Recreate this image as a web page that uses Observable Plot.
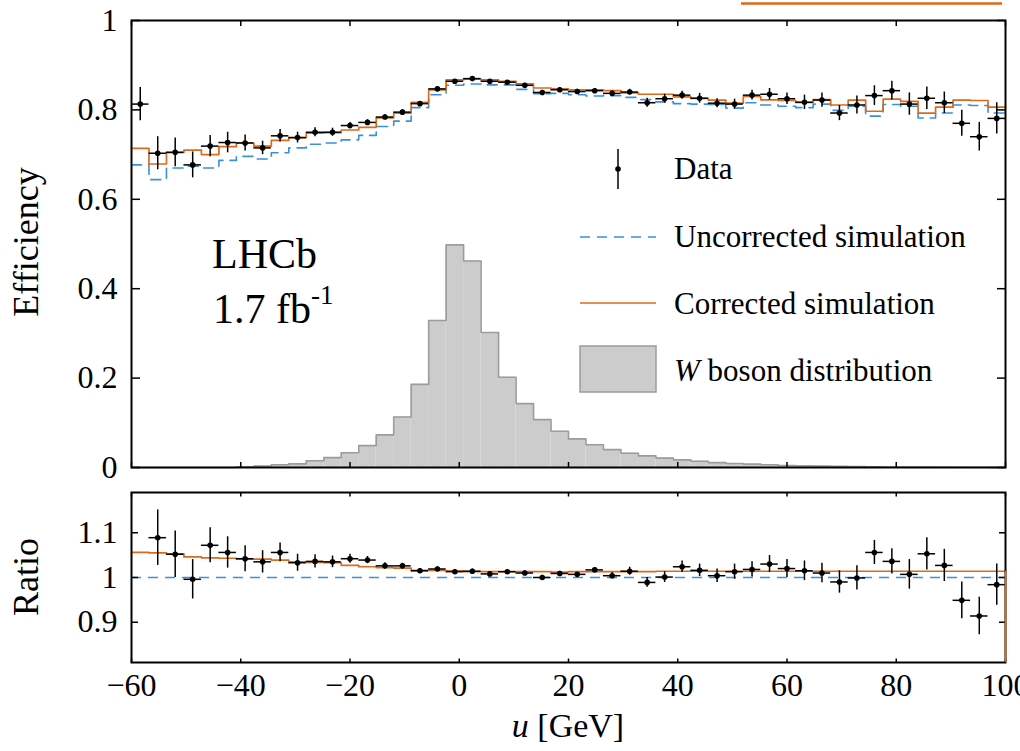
<!DOCTYPE html>
<html><head><meta charset="utf-8">
<script src="https://cdn.jsdelivr.net/npm/d3@7"></script>
<script src="https://cdn.jsdelivr.net/npm/@observablehq/plot@0.6"></script>
<style>
body{margin:0;background:#fff;}
#wrap{position:relative;width:1020px;height:751px;overflow:hidden;font-family:"Liberation Serif","Times New Roman",serif;}
#wrap svg{position:absolute;left:0;}
</style></head><body><div id="wrap"></div>
<script>
// ---- data ----
const edges = [-60,-56.8,-53.6,-50.4,-47.2,-44,-40.8,-37.6,-34.4,-31.2,-28,-24.8,-21.6,-18.4,-15.2,-12,-8.8,-5.6,-2.4,0.8,4,7.2,10.4,13.6,16.8,20,23.2,26.4,29.6,32.8,36,39.2,42.4,45.6,48.8,52,55.2,58.4,61.6,64.8,68,71.2,74.4,77.6,80.8,84,87.2,90.4,93.6,96.8,100];
const dataEff = [0.813,0.703,0.705,0.677,0.719,0.727,0.726,0.715,0.742,0.738,0.750,0.750,0.765,0.772,0.784,0.795,0.814,0.847,0.864,0.870,0.864,0.862,0.855,0.839,0.845,0.841,0.843,0.837,0.840,0.816,0.825,0.833,0.826,0.815,0.813,0.833,0.835,0.825,0.817,0.822,0.793,0.811,0.832,0.843,0.813,0.826,0.816,0.770,0.740,0.781];
const dataErr = [0.037,0.037,0.032,0.029,0.024,0.023,0.018,0.015,0.014,0.012,0.010,0.009,0.007,0.006,0.005,0.005,0.004,0.004,0.004,0.004,0.004,0.004,0.004,0.005,0.005,0.005,0.005,0.006,0.006,0.010,0.010,0.009,0.011,0.010,0.011,0.011,0.013,0.013,0.016,0.016,0.017,0.020,0.022,0.021,0.025,0.025,0.024,0.029,0.032,0.035];
const corrected = [0.714,0.679,0.705,0.710,0.700,0.718,0.726,0.719,0.732,0.738,0.748,0.749,0.755,0.761,0.782,0.793,0.817,0.845,0.867,0.869,0.867,0.864,0.858,0.849,0.847,0.845,0.845,0.843,0.838,0.835,0.835,0.829,0.826,0.822,0.815,0.830,0.8225,0.821,0.817,0.823,0.811,0.822,0.797,0.824,0.819,0.793,0.806,0.822,0.821,0.806];
const uncorrected = [0.677,0.644,0.670,0.674,0.670,0.687,0.696,0.690,0.704,0.715,0.723,0.726,0.733,0.743,0.763,0.775,0.805,0.834,0.855,0.858,0.856,0.856,0.846,0.836,0.837,0.834,0.831,0.832,0.828,0.823,0.818,0.814,0.813,0.812,0.804,0.816,0.811,0.808,0.805,0.813,0.799,0.808,0.786,0.812,0.808,0.782,0.793,0.811,0.810,0.793];
const wDist = [0,0,0,0,0,0,0.0015,0.003,0.006,0.008,0.015,0.022,0.033,0.049,0.073,0.113,0.186,0.329,0.498,0.462,0.302,0.202,0.143,0.107,0.081,0.064,0.051,0.040,0.032,0.026,0.021,0.017,0.014,0.011,0.009,0.0075,0.006,0.0045,0.004,0.003,0.0025,0.002,0.0015,0.001,0.001,0.0008,0.0006,0.0005,0.0004,0.0003];
const ratioData = [null,1.089,1.052,0.996,1.072,1.056,1.042,1.035,1.056,1.033,1.036,1.035,1.042,1.039,1.026,1.026,1.015,1.019,1.013,1.014,1.008,1.013,1.010,1.000,1.009,1.007,1.017,1.004,1.014,0.989,1.001,1.024,1.016,1.004,1.013,1.018,1.030,1.020,1.015,1.010,0.990,0.999,1.056,1.036,1.007,1.053,1.027,0.949,0.914,0.984];
const ratioErr = [null,0.062,0.052,0.044,0.039,0.035,0.029,0.025,0.021,0.019,0.015,0.013,0.010,0.008,0.007,0.006,0.005,0.005,0.005,0.005,0.005,0.005,0.005,0.005,0.005,0.004,0.005,0.007,0.009,0.011,0.012,0.013,0.014,0.015,0.017,0.017,0.019,0.020,0.022,0.022,0.025,0.027,0.027,0.028,0.033,0.036,0.036,0.041,0.042,0.046];
const ratioCorrected = [1.056,1.055,1.053,1.046,1.044,1.043,1.041,1.041,1.039,1.035,1.034,1.033,1.027,1.024,1.022,1.021,1.016,1.016,1.015,1.013,1.013,1.013,1.013,1.013,1.012,1.013,1.013,1.013,1.013,1.013,1.014,1.014,1.014,1.014,1.014,1.014,1.014,1.014,1.014,1.014,1.014,1.014,1.014,1.014,1.014,1.014,1.014,1.014,1.014,1.014];
const xTicks = [-60,-40,-20,0,20,40,60,80,100];
const effTicks = [0,0.2,0.4,0.6,0.8,1];
const ratioTicks = [0.9,1,1.1];
const xDomain = [-60,100];
const effDomain = [0,1];
const ratioDomain = [0.81,1.19];
const legendLabels = ["Data","Uncorrected simulation","Corrected simulation","boson distribution"];

// ---- styling ----
const FONT = '"Liberation Serif","Times New Roman",serif';
const ORANGE = "#dc6a1c", BLUE = "#3a8fe0", GRAYF = "#cccccc", GRAYS = "#9c9c9c";
const DASH = "10,7";

const bins = dataEff.map((v,i)=>({lo:edges[i],hi:edges[i+1],mid:(edges[i]+edges[i+1])/2,eff:v,err:dataErr[i],w:wDist[i],r:ratioData[i],re:ratioErr[i]}));
const rbins = bins.filter(b=>b.r!=null);
function stepPts(vals){const p=vals.map((v,i)=>({x:edges[i],y:v}));p.push({x:edges[vals.length],y:vals[vals.length-1]});return p;}
const minusFmt = d => d<0 ? "\u2212"+Math.abs(d) : String(d);
const blank = () => "";

const wrap = document.getElementById("wrap");

const topPlot = Plot.plot({
  width:1020, height:490, marginLeft:131, marginRight:15, marginTop:20, marginBottom:23,
  x:{domain:xDomain}, y:{domain:effDomain},
  style:{fontFamily:FONT, fontSize:"32px", background:"transparent", color:"black"},
  marks:[
    Plot.rectY(bins,{x1:"lo",x2:"hi",y:"w",fill:GRAYF}),
    Plot.line(stepPts(wDist),{x:"x",y:"y",curve:"step-after",stroke:GRAYS,strokeWidth:1.6}),
    Plot.line(stepPts(uncorrected),{x:"x",y:"y",curve:"step-after",stroke:BLUE,strokeWidth:1.6,strokeDasharray:DASH}),
    Plot.line(stepPts(corrected),{x:"x",y:"y",curve:"step-after",stroke:ORANGE,strokeWidth:1.7}),
    Plot.ruleY(bins,{y:"eff",x1:"lo",x2:"hi",stroke:"black",strokeWidth:1.5}),
    Plot.ruleX(bins,{x:"mid",y1:d=>d.eff-d.err,y2:d=>d.eff+d.err,stroke:"black",strokeWidth:1.5}),
    Plot.dot(bins,{x:"mid",y:"eff",r:2.8,fill:"black"}),
    Plot.axisX({anchor:"bottom",ticks:xTicks,tickSize:-5,tickFormat:blank,label:null,strokeWidth:1.5}),
    Plot.axisX({anchor:"top",ticks:xTicks,tickSize:-5,tickFormat:blank,label:null,strokeWidth:1.5}),
    Plot.axisY({anchor:"right",ticks:effTicks,tickSize:-9,tickFormat:blank,label:null,strokeWidth:1.5}),
    Plot.axisY({anchor:"left",ticks:effTicks,tickSize:-9,tickPadding:23,tickFormat:d=>String(d),label:null,strokeWidth:1.5,fontSize:32}),
    Plot.frame({stroke:"black",strokeWidth:2})
  ]
});
topPlot.style.top="0px";
wrap.appendChild(topPlot);

const lastR = ratioCorrected[ratioCorrected.length-1];
const botPlot = Plot.plot({
  width:1020, height:271, marginLeft:131, marginRight:15, marginTop:12, marginBottom:89,
  x:{domain:xDomain}, y:{domain:ratioDomain},
  style:{fontFamily:FONT, fontSize:"32px", background:"transparent", color:"black"},
  marks:[
    Plot.ruleY([1],{stroke:BLUE,strokeWidth:1.6,strokeDasharray:DASH}),
    Plot.line(stepPts(ratioCorrected),{x:"x",y:"y",curve:"step-after",stroke:ORANGE,strokeWidth:1.7}),
    Plot.ruleY(rbins,{y:"r",x1:"lo",x2:"hi",stroke:"black",strokeWidth:1.5}),
    Plot.ruleX(rbins,{x:"mid",y1:d=>d.r-d.re,y2:d=>d.r+d.re,stroke:"black",strokeWidth:1.5}),
    Plot.dot(rbins,{x:"mid",y:"r",r:2.8,fill:"black"}),
    Plot.axisX({anchor:"top",ticks:xTicks,tickSize:-3.5,tickFormat:blank,label:null,strokeWidth:1.5}),
    Plot.axisX({anchor:"bottom",ticks:xTicks,tickSize:-3.5,tickFormat:blank,label:null,strokeWidth:1.5}),
    Plot.axisX({anchor:"bottom",ticks:xTicks,tickSize:0,tickPadding:11,tickFormat:minusFmt,label:null,fontSize:32}),
    Plot.axisY({anchor:"right",ticks:ratioTicks,tickSize:-7,tickFormat:blank,label:null,strokeWidth:1.5}),
    Plot.axisY({anchor:"left",ticks:ratioTicks,tickSize:-7,tickPadding:21,tickFormat:d=>String(d),label:null,strokeWidth:1.5,fontSize:32}),
    Plot.frame({stroke:"black",strokeWidth:2}),
    Plot.ruleX([lastR],{x:()=>xDomain[1],y1:d=>d,y2:()=>ratioDomain[0],stroke:ORANGE,strokeWidth:1.7})
  ]
});
botPlot.style.top="480px";
wrap.appendChild(botPlot);

// ---- overlay: titles, legend, labels ----
const ov = d3.select(wrap).append("svg").attr("width",1020).attr("height",751)
  .style("top","0px").style("font-family",FONT).style("pointer-events","none");

ov.append("line").attr("x1",741).attr("x2",1002).attr("y1",3.5).attr("y2",3.5).attr("stroke",ORANGE).attr("stroke-width",2.5);

ov.append("text").attr("transform","translate(38,242) rotate(-90)").attr("text-anchor","middle").attr("font-size",36).text("Efficiency");
ov.append("text").attr("transform","translate(38,577) rotate(-90)").attr("text-anchor","middle").attr("font-size",36).text("Ratio");
const xt = ov.append("text").attr("x",568).attr("y",737).attr("text-anchor","middle").attr("font-size",34);
xt.append("tspan").attr("font-style","italic").text("u");
xt.append("tspan").text(" [GeV]");

ov.append("text").attr("x",212).attr("y",268).attr("font-size",42).text("LHCb");
const lum = ov.append("text").attr("x",213).attr("y",323).attr("font-size",42);
lum.append("tspan").text("1.7 fb");
lum.append("tspan").attr("font-size",27).attr("dy",-19).text("-1");

// legend
const LX = 674, LF = 31;
ov.append("line").attr("x1",618).attr("x2",618).attr("y1",149).attr("y2",189).attr("stroke","black").attr("stroke-width",1.5);
ov.append("circle").attr("cx",618).attr("cy",169).attr("r",2.8).attr("fill","black");
ov.append("text").attr("x",LX).attr("y",179).attr("font-size",LF).text(legendLabels[0]);
ov.append("line").attr("x1",580).attr("x2",656).attr("y1",237).attr("y2",237).attr("stroke",BLUE).attr("stroke-width",1.6).attr("stroke-dasharray",DASH);
ov.append("text").attr("x",LX).attr("y",247).attr("font-size",LF).text(legendLabels[1]);
ov.append("line").attr("x1",580).attr("x2",656).attr("y1",303).attr("y2",303).attr("stroke",ORANGE).attr("stroke-width",1.7);
ov.append("text").attr("x",LX).attr("y",314).attr("font-size",LF).text(legendLabels[2]);
ov.append("rect").attr("x",580).attr("y",346).attr("width",76).attr("height",46).attr("fill",GRAYF).attr("stroke",GRAYS).attr("stroke-width",1.5);
const wl = ov.append("text").attr("x",LX).attr("y",381).attr("font-size",LF);
wl.append("tspan").attr("font-style","italic").text("W");
wl.append("tspan").text(" "+legendLabels[3]);
</script>
</body></html>
